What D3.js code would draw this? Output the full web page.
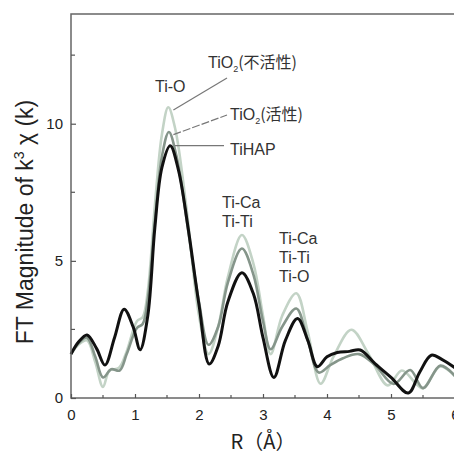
<!DOCTYPE html>
<html><head><meta charset="utf-8">
<script src="https://cdn.jsdelivr.net/npm/d3@7"></script>
<style>body{margin:0;background:#fff}svg{display:block}</style>
</head><body>
<svg id="c" width="454" height="454"></svg>
<script>
// R (Å) values and FT magnitudes
const blackR = [0,0.12,0.25,0.4,0.53,0.68,0.83,0.97,1.08,1.2,1.31,1.42,1.55,1.68,1.83,2.0,2.16,2.3,2.45,2.67,2.85,3.0,3.17,3.35,3.54,3.7,3.85,4.0,4.16,4.35,4.52,4.75,5.0,5.27,5.45,5.63,5.8,6.0];
const blackV = [1.6,2.05,2.3,1.8,1.2,2.2,3.24,2.6,1.76,3.0,6.2,8.4,9.2,8.3,6.2,3.4,1.24,1.9,3.5,4.57,3.8,2.2,0.75,2.1,2.9,2.1,1.14,1.5,1.66,1.7,1.75,1.25,0.75,0.18,0.95,1.56,1.4,1.1];
const midR = [0,0.12,0.25,0.38,0.5,0.63,0.76,0.87,1.03,1.12,1.2,1.31,1.42,1.53,1.65,1.8,2.0,2.15,2.3,2.45,2.67,2.85,3.0,3.12,3.3,3.52,3.7,3.87,4.05,4.25,4.5,4.75,5.04,5.3,5.5,5.77,6.0];
const midV = [1.6,2.0,2.2,1.5,0.75,1.05,1.0,1.6,2.55,2.7,3.6,6.4,8.8,9.7,8.8,6.6,3.5,1.94,2.6,4.2,5.45,4.5,2.8,1.78,2.6,3.26,2.1,0.93,1.2,1.45,1.6,1.2,0.51,1.02,0.36,1.18,0.8];
const lightR = [0,0.12,0.25,0.38,0.5,0.6,0.75,0.87,1.03,1.12,1.2,1.31,1.42,1.52,1.63,1.8,2.0,2.15,2.3,2.45,2.67,2.85,3.0,3.12,3.3,3.52,3.7,3.9,4.1,4.38,4.65,4.95,5.17,5.4,5.5,5.77,6.0];
const lightV = [1.6,1.95,2.1,1.3,0.4,1.0,1.1,1.7,2.8,2.95,3.9,7.0,9.6,10.6,9.8,7.0,3.0,1.6,2.6,4.4,5.94,4.9,3.0,1.6,3.0,3.82,2.4,0.52,1.5,2.49,1.6,0.46,1.0,0.5,0.35,1.15,0.8];
const xTicks = [0,1,2,3,4,5,6];
const yTicks = [0,5,10];

const svg = d3.select("#c");
const W = 454, H = 454;
const m = {l:71, t:14, r:-1, b:56};
const x = d3.scaleLinear().domain([0,6]).range([m.l, W - m.r]);
const y = d3.scaleLinear().domain([0,14]).range([H - m.b, m.t]);
const FONT = "'Liberation Sans', Arial, sans-serif";
const CJK = "'Noto Sans CJK JP', 'Liberation Sans', sans-serif";

// curves
const line = d3.line().x(d=>x(d[0])).y(d=>y(d[1])).curve(d3.curveCatmullRom.alpha(0.5));
const series = [
  {R:lightR, V:lightV, c:"#c3d3c6", w:2.6},
  {R:midR, V:midV, c:"#85958a", w:2.6},
  {R:blackR, V:blackV, c:"#111", w:3}
];
const g = svg.append("g");
series.forEach(s=>{
  g.append("path").attr("d", line(s.R.map((r,i)=>[r,s.V[i]])))
   .attr("fill","none").attr("stroke",s.c).attr("stroke-width",s.w).attr("stroke-linejoin","round");
});

// frame
svg.append("rect").attr("x",x(0)).attr("y",y(14)).attr("width",x(6)-x(0)).attr("height",y(0)-y(14))
  .attr("fill","none").attr("stroke","#666").attr("stroke-width",1.5);

// axes with inward ticks
const xa = svg.append("g").attr("transform",`translate(0,${y(0)})`)
  .call(d3.axisBottom(x).tickValues(xTicks).tickSize(-4).tickPadding(11).tickFormat(d3.format("d")));
const ya = svg.append("g").attr("transform",`translate(${x(0)},0)`)
  .call(d3.axisLeft(y).tickValues(yTicks).tickSize(-5).tickPadding(8).tickFormat(d3.format("d")));
[xa,ya].forEach(a=>{
  a.select(".domain").remove();
  a.selectAll(".tick line").attr("stroke","#555").attr("stroke-width",1.2);
  a.selectAll("text").attr("font-family",FONT).attr("font-size",15).attr("fill","#222");
});
// minor ticks
const xMinor = d3.range(0.5,6,1);
svg.append("g").selectAll("line").data(xMinor).join("line")
  .attr("x1",d=>x(d)).attr("x2",d=>x(d)).attr("y1",y(0)).attr("y2",y(0)-3)
  .attr("stroke","#555").attr("stroke-width",1.2);
const yMinor = [2.5,7.5,12.5];
svg.append("g").selectAll("line").data(yMinor).join("line")
  .attr("x1",x(0)).attr("x2",x(0)+4).attr("y1",d=>y(d)).attr("y2",d=>y(d))
  .attr("stroke","#555").attr("stroke-width",1.2);

// axis titles
svg.append("text").attr("x",263).attr("y",449).attr("text-anchor","middle")
  .attr("font-family",CJK).attr("font-size",20).attr("fill","#222").text("R（Å）");
const yl = svg.append("text").attr("transform","translate(33,222) rotate(-90)").attr("text-anchor","middle")
  .attr("font-family",FONT).attr("font-size",23).attr("fill","#222");
yl.append("tspan").text("FT Magnitude of k");
yl.append("tspan").attr("dy",-9).attr("font-size",14).text("3");
yl.append("tspan").attr("dy",9).text(" χ (k)");

// annotations
const ann = svg.append("g").attr("font-family",FONT).attr("font-size",16).attr("fill","#333");
function label(tx,ty,parts){
  const t = ann.append("text").attr("x",tx).attr("y",ty);
  parts.forEach(p=>{
    const s = t.append("tspan").text(p.t);
    if(p.sub){ s.attr("font-size",9).attr("dy",4); }
    if(p.back){ s.attr("dy",-4); }
    if(p.cjk){ s.attr("font-family",CJK); }
  });
}
label(155,92,[{t:"Ti-O"}]);
label(208,68,[{t:"TiO"},{t:"2",sub:true},{t:"(不活性)",cjk:true,back:true}]);
label(230,120,[{t:"TiO"},{t:"2",sub:true},{t:"(活性)",cjk:true,back:true}]);
label(230,155,[{t:"TiHAP"}]);
label(222,208,[{t:"Ti-Ca"}]);
label(222,227,[{t:"Ti-Ti"}]);
label(279,244,[{t:"Ti-Ca"}]);
label(279,263,[{t:"Ti-Ti"}]);
label(279,282,[{t:"Ti-O"}]);

// leader lines
const lead = svg.append("g").attr("stroke","#777").attr("stroke-width",1.2);
lead.append("line").attr("x1",x(1.6)).attr("y1",y(10.5)).attr("x2",227).attr("y2",78);
lead.append("line").attr("x1",x(1.6)).attr("y1",y(9.6)).attr("x2",227).attr("y2",115).attr("stroke-dasharray","8,2");
lead.append("line").attr("x1",x(1.62)).attr("y1",y(9.2)).attr("x2",224).attr("y2",y(9.2));
</script>
</body></html>
